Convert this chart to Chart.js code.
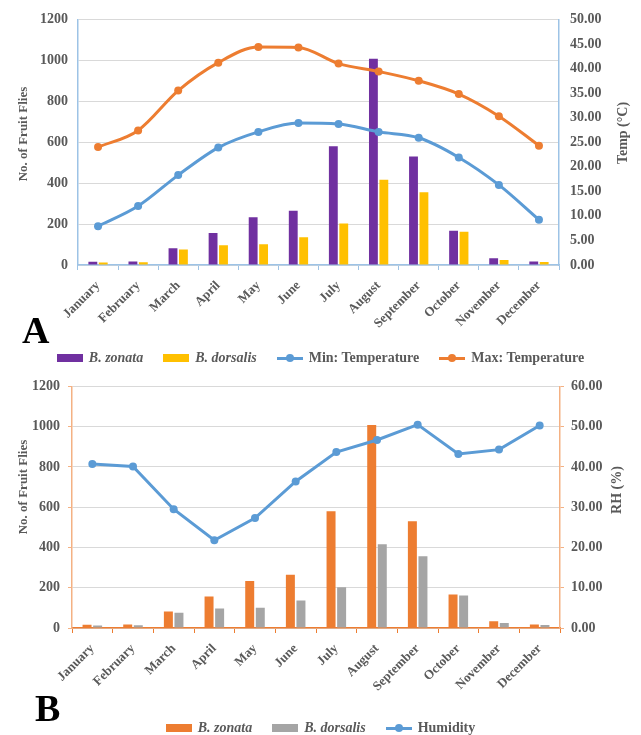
<!DOCTYPE html>
<html>
<head>
<meta charset="utf-8">
<script src="https://cdn.jsdelivr.net/npm/chart.js@4.4.1/dist/chart.umd.min.js"></script>
<style>
  body { margin: 0; background: #fff; width: 641px; height: 735px; position: relative; overflow: hidden; font-family: "Liberation Serif", serif; }
  canvas { position: absolute; left: 0; }
  #chartA { top: 0; }
  #chartB { top: 370px; }
  .panel { position: absolute; font: bold 38px/38px "Liberation Serif", serif; color: #000; }
  .legend { position: absolute; left: 0; width: 641px; display: flex; justify-content: center; align-items: center; gap: 20px;
            font: bold 14px "Liberation Serif", serif; color: #595959; height: 18px; }
  .legend .item { display: flex; align-items: center; gap: 6px; }
  .legend i { font-weight: bold; }
  .box { width: 26px; height: 8px; }
  .ln { width: 26px; height: 3px; position: relative; }
  .ln::after { content: ""; position: absolute; left: 9px; top: -2.5px; width: 8px; height: 8px; border-radius: 50%; background: inherit; }
</style>
</head>
<body>
<canvas id="chartA" width="641" height="345"></canvas>
<canvas id="chartB" width="641" height="340"></canvas>

<div class="panel" style="left:22px; top:311px;">A</div>
<div class="legend" style="top:349px;">
  <div class="item"><div class="box" style="background:#7030A0"></div><i>B. zonata</i></div>
  <div class="item"><div class="box" style="background:#FFC000"></div><i>B. dorsalis</i></div>
  <div class="item"><div class="ln" style="background:#5B9BD5"></div>Min: Temperature</div>
  <div class="item"><div class="ln" style="background:#ED7D31"></div>Max: Temperature</div>
</div>

<div class="panel" style="left:35px; top:689px;">B</div>
<div class="legend" style="top:719px;">
  <div class="item"><div class="box" style="background:#ED7D31"></div><i>B. zonata</i></div>
  <div class="item"><div class="box" style="background:#A5A5A5"></div><i>B. dorsalis</i></div>
  <div class="item"><div class="ln" style="background:#5B9BD5"></div>Humidity</div>
</div>

<script>
const months = ['January','February','March','April','May','June','July','August','September','October','November','December'];
const zonata = [16, 17, 82, 156, 233, 265, 580, 1008, 530, 167, 33, 17];
const dorsalis = [12, 14, 76, 97, 101, 136, 203, 416, 356, 162, 25, 15];
const minTemp = [7.9, 12.0, 18.3, 23.9, 27.1, 28.9, 28.7, 27.1, 25.9, 21.9, 16.3, 9.2];
const maxTemp = [24.0, 27.4, 35.5, 41.2, 44.4, 44.3, 41.0, 39.4, 37.5, 34.8, 30.3, 24.3];
const humidity = [40.7, 40.1, 29.5, 21.8, 27.3, 36.4, 43.7, 46.7, 50.5, 43.2, 44.3, 50.3];

const serif = '"Liberation Serif", serif';
const tickFont = { family: serif, size: 14, weight: 'bold' };
const monthFont = { family: serif, size: 13, weight: 'bold' };
const gray = '#595959';

// vertical axis titles, all reading bottom to top like the original
const axisTitles = {
  id: 'axisTitles',
  afterDraw(chart, args, opts) {
    const ctx = chart.ctx;
    opts.items.forEach(t => {
      ctx.save();
      ctx.translate(t.x, t.y);
      ctx.rotate(-Math.PI / 2);
      ctx.font = 'bold ' + t.size + 'px ' + serif;
      ctx.fillStyle = gray;
      ctx.textAlign = 'center';
      ctx.textBaseline = 'middle';
      ctx.fillText(t.text, 0, 0);
      ctx.restore();
    });
  }
};

function lineSet(label, data, color, smooth) {
  return {
    type: 'line', label: label, data: data, yAxisID: 'y1', order: 0,
    borderColor: color, backgroundColor: color, borderWidth: 3,
    pointRadius: 4, pointBackgroundColor: color, pointBorderWidth: 0,
    cubicInterpolationMode: smooth ? 'monotone' : 'default', tension: 0
  };
}
function barSet(label, data, color) {
  return {
    type: 'bar', label: label, data: data, yAxisID: 'y', order: 1,
    backgroundColor: color, borderWidth: 0,
    categoryPercentage: 0.52, barPercentage: 0.85
  };
}

function makeChart(id, cfg) {
  return new Chart(document.getElementById(id), {
    data: { labels: months, datasets: cfg.datasets },
    options: {
      responsive: false,
      animation: false,
      layout: { padding: { top: cfg.top, left: 0, right: 0, bottom: 0 } },
      plugins: {
        legend: { display: false },
        tooltip: { enabled: false },
        axisTitles: { items: cfg.titles }
      },
      scales: {
        x: {
          afterFit: s => { s.height = cfg.xHeight; },
          border: { color: cfg.xBorder, width: 1.5 },
          grid: { drawOnChartArea: false, drawTicks: true, tickLength: 5, tickColor: cfg.xBorder, offset: true },
          ticks: { font: monthFont, color: gray, maxRotation: 45, minRotation: 45, padding: 8, autoSkip: false }
        },
        y: {
          position: 'left', min: 0, max: 1200,
          afterFit: s => { s.width = cfg.leftW; },
          border: { color: cfg.sideBorder, width: 1.5 },
          grid: { color: '#D9D9D9', lineWidth: 1, drawTicks: cfg.leftTicks, tickLength: 4, tickColor: cfg.sideBorder },
          ticks: { stepSize: 200, font: tickFont, color: gray, padding: cfg.leftTicks ? 8 : 10,
                   callback: v => String(v) }
        },
        y1: {
          position: 'right', min: 0, max: cfg.rightMax,
          afterFit: s => { s.width = cfg.rightW; },
          border: { color: cfg.sideBorder, width: 1.5 },
          grid: { drawOnChartArea: false, drawTicks: cfg.rightTicks, tickLength: 4, tickColor: cfg.sideBorder },
          ticks: { stepSize: cfg.rightStep, font: tickFont, color: gray, padding: cfg.rightTicks ? 7 : 11,
                   callback: v => v.toFixed(2) }
        }
      }
    },
    plugins: [axisTitles]
  });
}

makeChart('chartA', {
  datasets: [
    barSet('B. zonata', zonata, '#7030A0'),
    barSet('B. dorsalis', dorsalis, '#FFC000'),
    lineSet('Min: Temperature', minTemp, '#5B9BD5', true),
    lineSet('Max: Temperature', maxTemp, '#ED7D31', true)
  ],
  top: 16, xHeight: 80, leftW: 78, rightW: 82,
  rightMax: 50, rightStep: 5,
  xBorder: '#9DC3E6', sideBorder: '#9DC3E6',
  leftTicks: false, rightTicks: false,
  titles: [
    { text: 'No. of Fruit Flies', x: 24, y: 134, size: 13 },
    { text: 'Temp (°C)', x: 623, y: 133, size: 14 }
  ]
});

makeChart('chartB', {
  datasets: [
    barSet('B. zonata', zonata, '#ED7D31'),
    barSet('B. dorsalis', dorsalis, '#A5A5A5'),
    lineSet('Humidity', humidity, '#5B9BD5', false)
  ],
  top: 15, xHeight: 82, leftW: 72, rightW: 81,
  rightMax: 60, rightStep: 10,
  xBorder: '#ED7D31', sideBorder: '#F4B183',
  leftTicks: true, rightTicks: true,
  titles: [
    { text: 'No. of Fruit Flies', x: 24, y: 117, size: 13 },
    { text: 'RH (%)', x: 617, y: 120, size: 14 }
  ]
});
</script>
</body>
</html>
